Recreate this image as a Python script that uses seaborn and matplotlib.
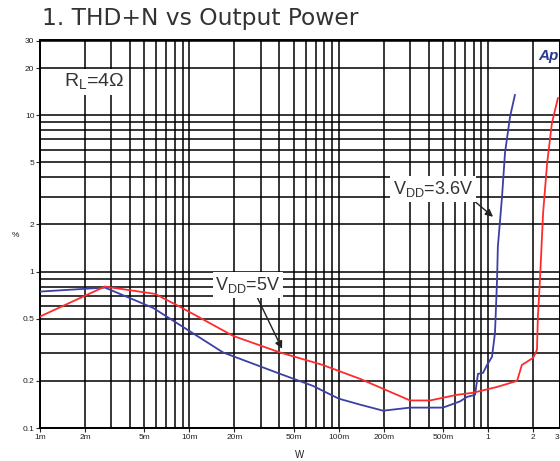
import matplotlib
matplotlib.use("Agg")
import pandas as pd
import matplotlib.pyplot as plt
import seaborn as sns
from matplotlib.ticker import FixedLocator, FixedFormatter, NullFormatter

# --- Data (output power in W, THD+N in %) ---
vdd36_w = [0.001, 0.00272, 0.00571, 0.0118, 0.0168, 0.0404, 0.067, 0.100, 0.139,
           0.198, 0.300, 0.498, 0.648, 0.721, 0.816, 0.854, 0.923, 0.982, 1.06,
           1.11, 1.146, 1.16, 1.237, 1.295, 1.40, 1.51]
vdd36_thd = [0.745, 0.79, 0.586, 0.377, 0.304, 0.222, 0.186, 0.154, 0.141,
             0.129, 0.135, 0.135, 0.148, 0.158, 0.163, 0.222, 0.225, 0.253, 0.285,
             0.406, 0.885, 1.44, 3.0, 5.74, 9.78, 13.5]
vdd5_w = [0.001, 0.00272, 0.00589, 0.00865, 0.0118, 0.0196, 0.0404, 0.078, 0.139,
          0.300, 0.408, 0.618, 0.791, 1.146, 1.56, 1.68, 2.0, 2.12, 2.15, 2.22,
          2.33, 2.48, 2.67, 2.93]
vdd5_thd = [0.516, 0.802, 0.72, 0.595, 0.506, 0.388, 0.304, 0.253, 0.206,
            0.150, 0.150, 0.163, 0.168, 0.183, 0.20, 0.253, 0.281, 0.316, 0.514, 0.885,
            2.37, 4.95, 8.9, 12.9]

x_ticks = [0.001, 0.002, 0.005, 0.01, 0.02, 0.05, 0.1, 0.2, 0.5, 1, 2, 3]
x_labels = ["1m", "2m", "5m", "10m", "20m", "50m", "100m", "200m", "500m", "1", "2", "3"]
x_minor = [0.003, 0.004, 0.006, 0.007, 0.008, 0.009,
           0.03, 0.04, 0.06, 0.07, 0.08, 0.09,
           0.3, 0.4, 0.6, 0.7, 0.8, 0.9]
y_ticks = [0.1, 0.2, 0.5, 1, 2, 5, 10, 20, 30]
y_labels = ["0.1", "0.2", "0.5", "1", "2", "5", "10", "20", "30"]
y_minor = [0.3, 0.4, 0.6, 0.7, 0.8, 0.9, 3, 4, 6, 7, 8, 9]

df = pd.concat([
    pd.DataFrame({"W": vdd36_w, "THD": vdd36_thd, "VDD": "3.6V"}),
    pd.DataFrame({"W": vdd5_w, "THD": vdd5_thd, "VDD": "5V"}),
], ignore_index=True)

sns.set_theme(style="white")
plt.rcParams["font.family"] = ["Liberation Sans", "DejaVu Sans"]
plt.rcParams["mathtext.fontset"] = "custom"
plt.rcParams["mathtext.rm"] = "Liberation Sans"

fig = plt.figure(figsize=(5.6, 4.61), dpi=100)
ax = fig.add_axes([40 / 560, 33 / 461, 519.5 / 560, 387.5 / 461])

ax.set_xscale("log")
ax.set_yscale("log")
ax.set_xlim(0.001, 3)
ax.set_ylim(0.1, 30)

sns.lineplot(data=df, x="W", y="THD", hue="VDD", sort=False, estimator=None,
             palette={"3.6V": "#3b3fa6", "5V": "#ff2b2b"}, linewidth=1.3,
             legend=False, ax=ax, zorder=3)

ax.xaxis.set_major_locator(FixedLocator(x_ticks))
ax.xaxis.set_major_formatter(FixedFormatter(x_labels))
ax.xaxis.set_minor_locator(FixedLocator(x_minor))
ax.xaxis.set_minor_formatter(NullFormatter())
ax.yaxis.set_major_locator(FixedLocator(y_ticks))
ax.yaxis.set_major_formatter(FixedFormatter(y_labels))
ax.yaxis.set_minor_locator(FixedLocator(y_minor))
ax.yaxis.set_minor_formatter(NullFormatter())

ax.grid(which="both", color="black", linewidth=1.1)
ax.tick_params(which="major", direction="out", length=3, width=0.8, pad=1,
               labelsize=6, labelcolor="#222222", left=True, bottom=True)
ax.tick_params(which="minor", length=0)
for s in ax.spines.values():
    s.set_color("black")
    s.set_linewidth(1.4)

ax.set_xlabel("")
ax.set_ylabel("")

# the last tick label sits at the figure edge, so right-align it
fig.canvas.draw()
ax.get_xticklabels()[-1].set_horizontalalignment("right")

# annotations
box = dict(facecolor="white", edgecolor="none", pad=2)
ax.text(0.00145, 16.3, r"R$_\mathregular{L}$=4Ω", fontsize=14, color="#333333",
        ha="left", va="center", bbox=box, zorder=5)

ax.annotate("", xy=(1.077, 2.24), xytext=(0.60, 3.58),
            arrowprops=dict(arrowstyle="-|>", color="#222222", lw=1.0,
                            mutation_scale=11, shrinkA=0, shrinkB=0), zorder=4)
ax.text(0.427, 3.38, r"V$_\mathregular{DD}$=3.6V", fontsize=13, color="#333333",
        ha="center", va="center", bbox=box, zorder=5)

ax.annotate("", xy=(0.0417, 0.321), xytext=(0.0275, 0.731),
            arrowprops=dict(arrowstyle="-|>", color="#222222", lw=1.0,
                            mutation_scale=11, shrinkA=0, shrinkB=0), zorder=4)
ax.text(0.0247, 0.822, r"V$_\mathregular{DD}$=5V", fontsize=13, color="#333333",
        ha="center", va="center", bbox=box, zorder=5)

fig.text(42 / 560, 1 - 18 / 461, "1. THD+N vs Output Power", fontsize=16.8,
         color="#333333", va="center", ha="left", family="DejaVu Sans")
fig.text(12 / 560, 1 - 235 / 461, "%", fontsize=6, color="#222222", va="center")
fig.text(300 / 560, 1 - 455 / 461, "W", fontsize=7, color="#222222", ha="center", va="center")
fig.text(538 / 560, 1 - 56 / 461, "Ap", fontsize=11, color="#2b3990",
         fontweight="bold", fontstyle="italic", ha="left", va="center")

fig.savefig("out.png", dpi=100)
